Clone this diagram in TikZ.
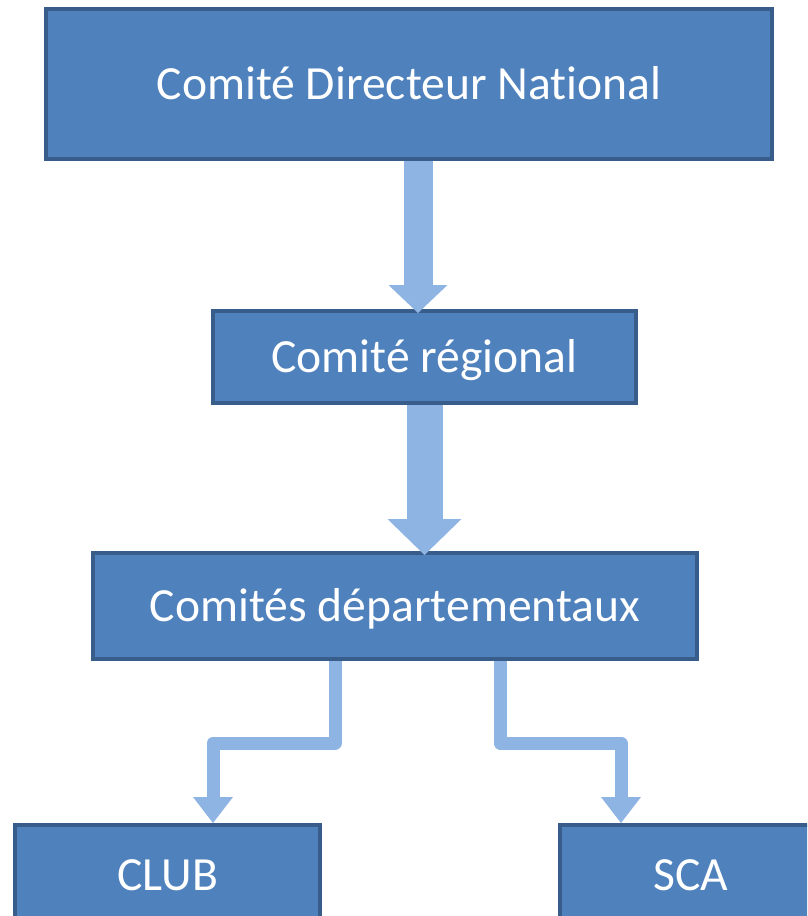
\documentclass[tikz,border=0pt]{standalone}
\usepackage{fontspec}
\setmainfont{Carlito}[Ligatures=NoCommon]
\usetikzlibrary{arrows.meta}
\definecolor{boxfill}{HTML}{4F81BD}
\definecolor{boxline}{HTML}{385D8A}
\definecolor{flowblue}{HTML}{8EB4E3}
\tikzset{
  orgbox/.style={draw=boxline, fill=boxfill, line width=4pt, text=white,
    font=\fontsize{47.6}{57}\selectfont, text height=30.5pt, text depth=0pt, inner sep=0pt},
  flow/.style={draw=flowblue, line width=#1, line join=round},
}
\begin{document}
\begin{tikzpicture}[x=1pt,y=-1pt]
  \clip (0,0) rectangle (807,916);
  \node[orgbox, minimum width=726pt, minimum height=150pt] (cdn) at (409,84) {Comité Directeur National};
  \node[orgbox, minimum width=423pt, minimum height=92pt] (reg) at (424.5,357) {Comité régional};
  \node[orgbox, minimum width=604pt, minimum height=106pt] (dep) at (395,606) {Comités départementaux};
  \node[orgbox, minimum width=305pt, minimum height=100pt] (club) at (167.5,875) {CLUB};
  \node[orgbox, minimum width=262pt, minimum height=100pt] (sca) at (691,875) {SCA};
  % fleches
  \coordinate (a1) at (418,0);
  \coordinate (outL) at (335,0);
  \coordinate (kneeL) at (213,743);
  \coordinate (outR) at (500,0);
  \coordinate (kneeR) at (621,743);
  \draw[flow=29pt, -{Triangle[width=59pt,length=28pt,line width=0pt]}, shorten >=-4pt] (cdn.south -| a1) -- (reg.north -| a1);
  \draw[flow=36pt, -{Triangle[width=74pt,length=36pt,line width=0pt]}, shorten >=-4pt] (reg.south) -- (dep.north -| reg.south);
  \draw[flow=13pt, -{Triangle[width=40pt,length=26pt,line width=0pt]}] (dep.south -| outL) |- (kneeL) -- (kneeL |- club.north);
  \draw[flow=13pt, -{Triangle[width=40pt,length=26pt,line width=0pt]}] (dep.south -| outR) |- (kneeR) -- (kneeR |- sca.north);
\end{tikzpicture}
\end{document}
